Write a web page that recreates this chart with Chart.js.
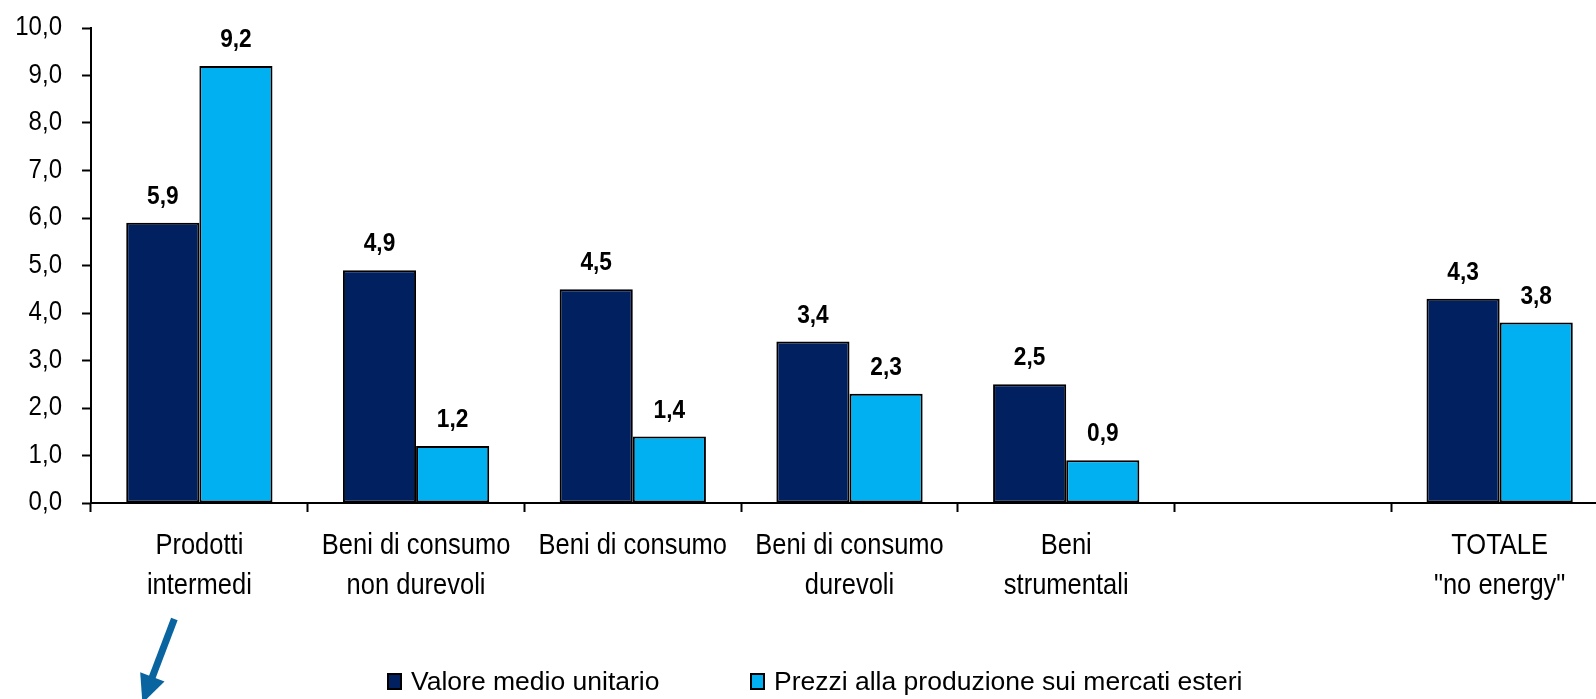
<!DOCTYPE html>
<html>
<head>
<meta charset="utf-8">
<script src="https://cdn.jsdelivr.net/npm/chart.js@4"></script>
<style>
  html, body { margin: 0; padding: 0; overflow: hidden; background: #fff; width: 1596px; height: 699px; }
  #wrap { position: relative; width: 1610px; height: 699px; }
  canvas { display: block; }
  .leg { position: absolute; top: 668px; height: 26px; display: flex; align-items: center;
         font-family: "Liberation Sans", Arial, sans-serif;
         font-size: 26.5px; color: #000; white-space: nowrap; }
  .leg .box { width: 11px; height: 13px; border: 2px solid #000; margin-right: 9px; }
</style>
</head>
<body>
<div id="wrap">
  <canvas id="c" width="1610" height="699"></canvas>
  <div class="leg" id="leg0" style="left:387px;"><span class="box"></span><span class="txt"></span></div>
  <div class="leg" id="leg1" style="left:750px;"><span class="box"></span><span class="txt"></span></div>
</div>
<script>
const categories = [
  ["Prodotti", "intermedi"],
  ["Beni di consumo", "non durevoli"],
  ["Beni di consumo"],
  ["Beni di consumo", "durevoli"],
  ["Beni", "strumentali"],
  [""],
  ["TOTALE", "\"no energy\""]
];
const seriesNames = ["Valore medio unitario", "Prezzi alla produzione sui mercati esteri"];
const valoreMedioUnitario = [5.9, 4.9, 4.5, 3.4, 2.5, null, 4.3];
const prezziProduzioneEsteri = [9.2, 1.2, 1.4, 2.3, 0.9, null, 3.8];
const yTicks = [0, 1, 2, 3, 4, 5, 6, 7, 8, 9, 10];
const colors = ["#002060", "#00B0F0"];

const fmt = v => v.toFixed(1).replace('.', ',');
const FAMILY = '"Liberation Sans", Arial, sans-serif';
const CAT_SIZE = 30;

// Narrow look (like Arial Narrow): compress canvas text horizontally.
const canvas = document.getElementById('c');
const ctx2d = canvas.getContext('2d');
const origFillText = ctx2d.fillText.bind(ctx2d);
ctx2d.fillText = function (t, x, y, mw) {
  const f = ctx2d.font;
  const k = f.indexOf(CAT_SIZE + 'px') >= 0 ? 0.85 : 0.89;
  const w = ctx2d.measureText(t).width * k;
  const m = (mw === undefined || mw === null) ? w : Math.min(mw, w);
  return origFillText(t, x, y, Math.max(m, 0.01));
};

const dataLabels = {
  id: 'dataLabels',
  afterDatasetsDraw(chart) {
    const ctx = chart.ctx;
    ctx.save();
    ctx.font = 'bold 25.5px ' + FAMILY;
    ctx.fillStyle = '#000';
    ctx.textAlign = 'center';
    ctx.textBaseline = 'alphabetic';
    chart.data.datasets.forEach((ds, i) => {
      chart.getDatasetMeta(i).data.forEach((bar, j) => {
        const v = ds.data[j];
        if (v === null || v === undefined) return;
        ctx.fillText(fmt(v), bar.x, bar.y - 19);
      });
    });
    ctx.restore();
  }
};

const arrow = {
  id: 'arrow',
  afterDraw(chart) {
    const ctx = chart.ctx;
    const cx = chart.scales.x.getPixelForValue(0);
    const x0 = cx - 25, y0 = 619;
    const dx = -30, dy = 79;
    const len = Math.hypot(dx, dy);
    const ux = dx / len, uy = dy / len;
    const tipX = x0 + ux * 90, tipY = y0 + uy * 90;
    const baseX = tipX - ux * 28, baseY = tipY - uy * 28;
    ctx.save();
    ctx.strokeStyle = '#0A64A0';
    ctx.fillStyle = '#0A64A0';
    ctx.lineWidth = 7;
    ctx.beginPath();
    ctx.moveTo(x0, y0);
    ctx.lineTo(baseX + ux * 2, baseY + uy * 2);
    ctx.stroke();
    const px = -uy, py = ux;
    ctx.beginPath();
    ctx.moveTo(tipX, tipY);
    ctx.lineTo(baseX + px * 13, baseY + py * 13);
    ctx.lineTo(baseX - px * 13, baseY - py * 13);
    ctx.closePath();
    ctx.fill();
    ctx.restore();
  }
};

function noOverflowPadding(s) {
  s.paddingTop = 0; s.paddingBottom = 0; s.paddingLeft = 0; s.paddingRight = 0;
}

new Chart(canvas, {
  type: 'bar',
  data: {
    labels: categories,
    datasets: [
      { label: seriesNames[0], data: valoreMedioUnitario, backgroundColor: colors[0], borderColor: '#000', borderWidth: 2, borderSkipped: false },
      { label: seriesNames[1], data: prezziProduzioneEsteri, backgroundColor: colors[1], borderColor: '#000', borderWidth: 2, borderSkipped: false }
    ]
  },
  options: {
    responsive: false,
    animation: false,
    devicePixelRatio: 1,
    layout: { padding: { top: 28, right: 2, left: 0, bottom: 96 } },
    datasets: { bar: { categoryPercentage: 0.675, barPercentage: 1.0 } },
    plugins: { legend: { display: false }, tooltip: { enabled: false } },
    scales: {
      x: {
        offset: true,
        grid: { offset: true, drawOnChartArea: false, drawTicks: true, tickLength: 9, tickColor: '#000', tickWidth: 2 },
        border: { display: true, color: '#000', width: 2 },
        ticks: { color: '#000', padding: 13, maxRotation: 0, minRotation: 0, autoSkip: false,
                 font: { family: FAMILY, size: CAT_SIZE, lineHeight: 1.357 } },
        afterFit(s) { s.height = 100; noOverflowPadding(s); }
      },
      y: {
        min: 0, max: 10,
        afterBuildTicks(s) { s.ticks = yTicks.map(v => ({ value: v })); },
        grid: { drawOnChartArea: false, drawTicks: true, tickLength: 9, tickColor: '#000', tickWidth: 2 },
        border: { display: true, color: '#000', width: 2 },
        ticks: { color: '#000', padding: 20, callback: v => fmt(v),
                 font: { family: FAMILY, size: 27 } },
        afterFit(s) { s.width = 91; noOverflowPadding(s); }
      }
    }
  },
  plugins: [dataLabels, arrow]
});

seriesNames.forEach((n, i) => {
  const el = document.getElementById('leg' + i);
  el.querySelector('.box').style.background = colors[i];
  el.querySelector('.txt').textContent = n;
});
</script>
</body>
</html>
